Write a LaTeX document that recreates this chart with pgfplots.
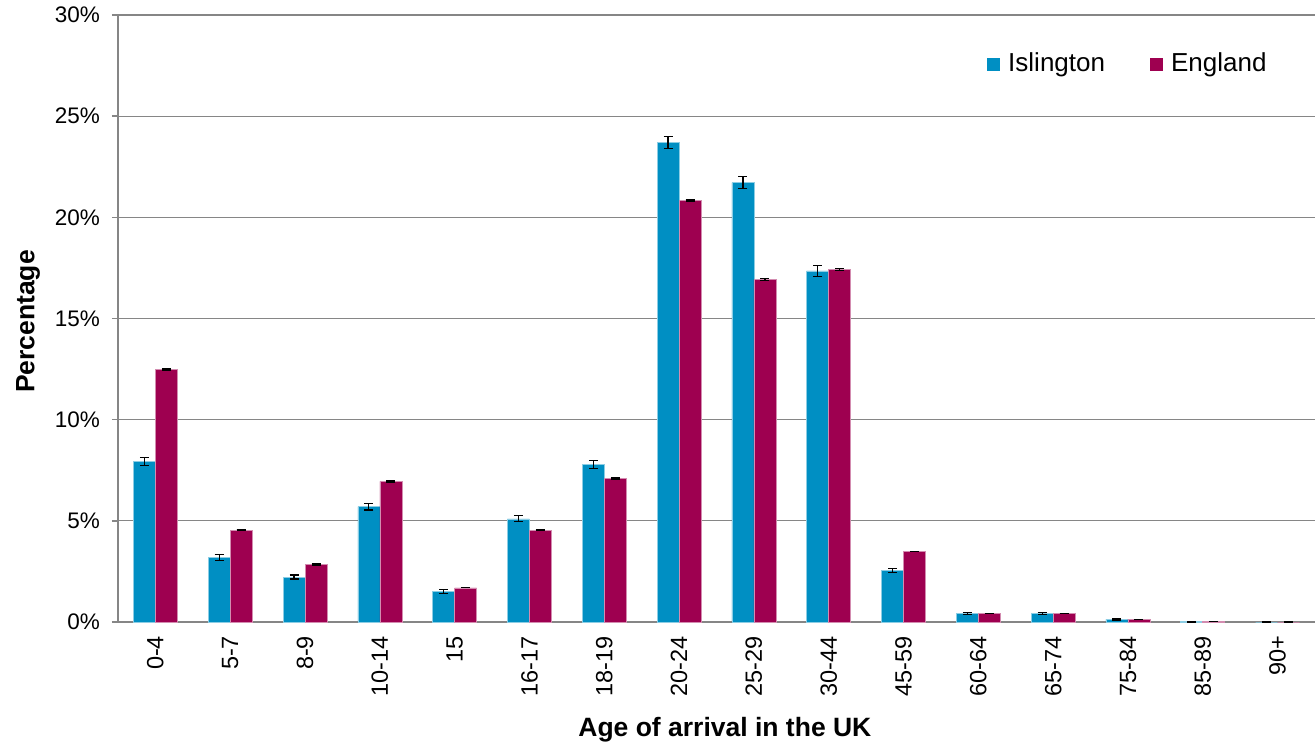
\documentclass[border=0pt]{standalone}
\usepackage{pgfplots}
\pgfplotsset{compat=1.18}
\usepackage{fontspec}
\setmainfont{Liberation Sans}
\definecolor{isl}{RGB}{0,143,195}
\definecolor{eng}{RGB}{158,0,80}
\definecolor{axgray}{RGB}{134,134,134}
\begin{document}
\fontsize{23.5}{26}\selectfont
\begin{tikzpicture}[font=\fontsize{23.5}{26}\selectfont]
\begin{axis}[
  at={(0,0)}, anchor=south west,
  scale only axis, width=1197pt, height=607pt,
  xmin=-0.5, xmax=15.5, ymin=0, ymax=30,
  ybar=0pt, bar width=22pt,
  axis x line*=bottom, axis y line*=left,
  axis line style={-, color=axgray, line width=1.4pt},
  ytick={0,5,...,30},
  yticklabel={\pgfmathprintnumber[assume math mode=true]{\tick}\%},
  xtick={0,...,15},
  xticklabels={0-4,5-7,8-9,10-14,15,16-17,18-19,20-24,25-29,30-44,45-59,60-64,65-74,75-84,85-89,90+},
  xtick style={draw=none},
  minor xtick={-0.5,0.5,...,15.5},
  minor x tick style={color=axgray, line width=1.4pt},
  y tick style={color=axgray, line width=1.4pt},
  tick align=outside, major tick length=6pt, minor tick length=7pt,
  ymajorgrids, major grid style={color=axgray, line width=1.3pt},
  every x tick label/.append style={font=\fontsize{23.5}{26}\selectfont},
  every y tick label/.append style={font=\fontsize{22.5}{25}\selectfont},
  xticklabel style={rotate=90, anchor=east},
  yticklabel style={xshift=-4pt},
  xlabel={Age of arrival in the UK},
  ylabel={Percentage},
  every axis x label/.style={at={(axis description cs:0.507,-0.178)}, anchor=center,
    font=\bfseries\fontsize{26.5}{29}\selectfont},
  every axis y label/.style={at={(axis description cs:-0.0752,0.495)}, rotate=90, anchor=center,
    font=\bfseries\fontsize{26.5}{29}\selectfont},
  legend style={at={(axis description cs:0.7235,0.919)}, anchor=west, draw=none, fill=none,
    font=\fontsize{26}{30}\selectfont, legend columns=2,
    /tikz/every even column/.append style={column sep=43pt}},
  legend image code/.code={\fill[#1,draw=none] (0pt,-6.5pt) rectangle (13pt,6.5pt);},
  error bars/error bar style={black, line width=1.3pt},
  error bars/error mark options={black, rotate=90, mark size=4.5pt, line width=1.3pt},
]
\addplot[fill=isl, draw=isl!45, line width=0.6pt,
  error bars/.cd, y dir=both, y explicit]
  table[x=x, y=y, y error=e] {
x y e
0 7.93 0.20
1 3.20 0.15
2 2.22 0.10
3 5.70 0.17
4 1.52 0.10
5 5.10 0.15
6 7.78 0.19
7 23.70 0.31
8 21.72 0.31
9 17.35 0.27
10 2.56 0.10
11 0.42 0.04
12 0.42 0.04
13 0.13 0.03
14 0.01 0.01
15 0.00 0.00
};
\addplot[fill=eng, draw=eng!45, line width=0.6pt,
  error bars/.cd, y dir=both, y explicit]
  table[x=x, y=y, y error=e] {
x y e
0 12.50 0.04
1 4.54 0.00
2 2.85 0.03
3 6.95 0.03
4 1.69 0.00
5 4.54 0.00
6 7.10 0.03
7 20.82 0.04
8 16.93 0.04
9 17.42 0.04
10 3.47 0.00
11 0.43 0.00
12 0.43 0.00
13 0.14 0.00
14 0.01 0.00
15 0.00 0.00
};
\legend{\hspace*{6pt}Islington,\hspace*{6pt}England}
\end{axis}
\pgfresetboundingbox
\path (-118pt,-125pt) rectangle (1197pt,622pt);
\end{tikzpicture}
\end{document}
